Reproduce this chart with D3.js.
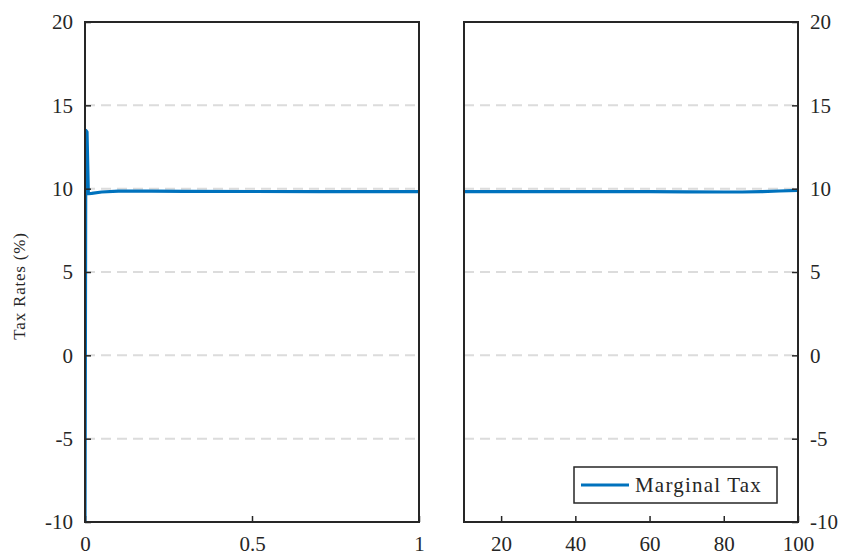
<!DOCTYPE html>
<html>
<head>
<meta charset="utf-8">
<script src="https://cdn.jsdelivr.net/npm/d3@7"></script>
<style>
  body { margin: 0; background: #fff; }
  text { font-family: "Liberation Serif", "DejaVu Serif", serif; fill: #262626; }
</style>
</head>
<body>
<div id="chart"></div>
<script>
// data
const shortX = [0, 0.0025, 0.006, 0.01, 0.02, 0.05, 0.1, 0.2, 0.3, 0.5, 0.7, 0.9, 1];
const shortY = [-10, 13.5, 13.4, 9.7, 9.72, 9.8, 9.85, 9.85, 9.84, 9.83, 9.82, 9.82, 9.82];
const longX = [10, 20, 30, 40, 50, 60, 70, 80, 85, 90, 95, 100];
const longY = [9.82, 9.82, 9.82, 9.82, 9.82, 9.82, 9.81, 9.8, 9.8, 9.82, 9.86, 9.9];
const yTicks = [-10, -5, 0, 5, 10, 15, 20];
const leftXTicks = [0, 0.5, 1];
const rightXTicks = [20, 40, 60, 80, 100];
const legendLabel = "Marginal Tax";

const width = 846, height = 560;
const plotTop = 22, plotBottom = 522;
const lineColor = "#0072BD";

const svg = d3.select("#chart").append("svg")
  .attr("width", width).attr("height", height);

const y = d3.scaleLinear().domain([-10, 20]).range([plotBottom, plotTop]);
const xL = d3.scaleLinear().domain([0, 1]).range([85, 419]);
const xR = d3.scaleLinear().domain([10, 100]).range([464, 798]);

// plain hyphen like matlab
const yFmt = d => String(d);

function panel(x, xs, ys, xticks, side, fmt) {
  const [x0, x1] = x.range();
  const g = svg.append("g");

  // dashed grid
  g.selectAll(".grid")
    .data(yTicks.filter(t => t > -10 && t < 20))
    .enter().append("line")
      .attr("x1", x0).attr("x2", x1)
      .attr("y1", d => y(d)).attr("y2", d => y(d))
      .attr("stroke", "#dcdcdc").attr("stroke-width", 2)
      .attr("stroke-dasharray", "10,6");

  // clip for the line
  const id = "clip" + side;
  svg.append("clipPath").attr("id", id)
    .append("rect").attr("x", x0).attr("y", plotTop)
    .attr("width", x1 - x0).attr("height", plotBottom - plotTop);

  const line = d3.line().x((d, i) => x(xs[i])).y(d => y(d));
  g.append("path")
    .datum(ys)
    .attr("clip-path", `url(#${id})`)
    .attr("fill", "none")
    .attr("stroke", lineColor)
    .attr("stroke-width", 3.2)
    .attr("stroke-linejoin", "round")
    .attr("d", line);

  // x axis
  const ax = g.append("g").attr("transform", `translate(0,${plotBottom})`)
    .call(d3.axisBottom(x).tickValues(xticks).tickSizeInner(-6).tickSizeOuter(0).tickPadding(14).tickFormat(fmt));
  // y axis
  const ay = side === "L"
    ? g.append("g").attr("transform", `translate(${x0},0)`)
        .call(d3.axisLeft(y).tickValues(yTicks).tickSizeInner(-6).tickSizeOuter(0).tickPadding(12).tickFormat(yFmt))
    : g.append("g").attr("transform", `translate(${x1},0)`)
        .call(d3.axisRight(y).tickValues(yTicks).tickSizeInner(-6).tickSizeOuter(0).tickPadding(12).tickFormat(yFmt));

  [ax, ay].forEach(a => {
    a.select(".domain").remove();
    a.selectAll(".tick line").attr("stroke", "#262626").attr("stroke-width", 1.5);
    a.selectAll(".tick text").attr("font-size", 21).attr("fill", "#262626")
      .style("font-family", '"Liberation Serif", serif');
  });

  // box
  g.append("rect")
    .attr("x", x0).attr("y", plotTop)
    .attr("width", x1 - x0).attr("height", plotBottom - plotTop)
    .attr("fill", "none").attr("stroke", "#262626").attr("stroke-width", 2);
}

panel(xL, shortX, shortY, leftXTicks, "L", d => d === 0.5 ? "0.5" : d3.format("d")(d));
panel(xR, longX, longY, rightXTicks, "R", d3.format("d"));

// y label
svg.append("text")
  .attr("transform", "translate(25,286) rotate(-90)")
  .attr("text-anchor", "middle")
  .attr("font-size", 17)
  .attr("letter-spacing", 0.8)
  .text("Tax Rates (%)");

// legend
const lg = svg.append("g");
lg.append("rect")
  .attr("x", 574).attr("y", 467).attr("width", 203).attr("height", 36)
  .attr("fill", "#fff").attr("stroke", "#262626").attr("stroke-width", 1.5);
lg.append("line")
  .attr("x1", 581).attr("x2", 629).attr("y1", 485).attr("y2", 485)
  .attr("stroke", lineColor).attr("stroke-width", 3.2);
lg.append("text")
  .attr("x", 635).attr("y", 492)
  .attr("font-size", 21)
  .attr("letter-spacing", 1.2)
  .text(legendLabel);
</script>
</body>
</html>
